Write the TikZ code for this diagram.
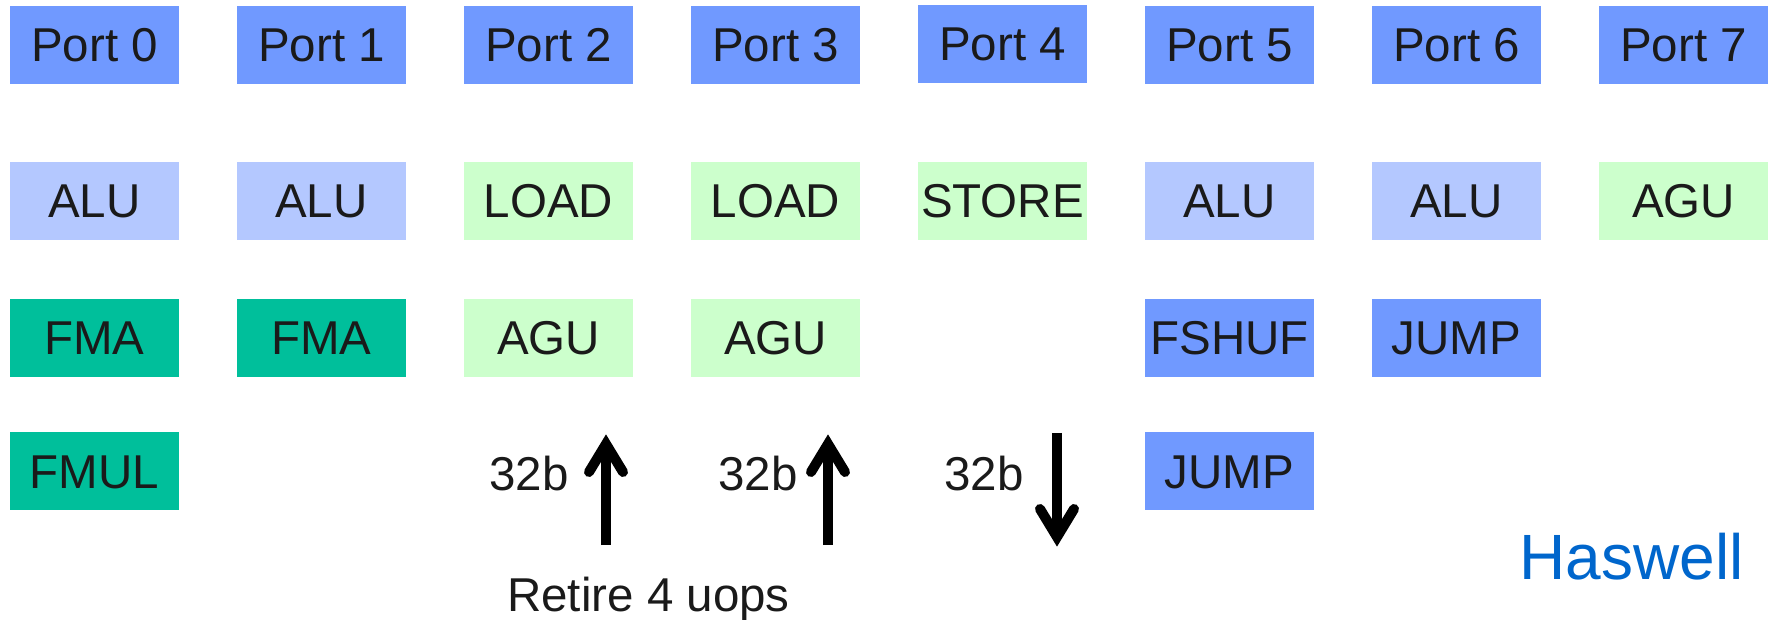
\documentclass[tikz,border=0pt]{standalone}
\usepackage{fontspec}
\setmainfont{Liberation Sans}
\usetikzlibrary{calc}
\definecolor{portblue}{RGB}{112,153,255}
\definecolor{alublue}{RGB}{180,200,255}
\definecolor{memgreen}{RGB}{204,255,204}
\definecolor{fpteal}{RGB}{0,191,155}
\definecolor{inkblack}{RGB}{26,26,26}
\definecolor{titleblue}{RGB}{0,102,204}

\begin{document}
\begin{tikzpicture}[x=0.5pt,y=-0.5pt,
  unit/.style={inner sep=0pt, minimum width=84.5pt, minimum height=39pt,
    text height=17pt, text depth=0pt,
    font=\fontsize{23.75}{28}\selectfont, text=inkblack},
  port/.style={unit, fill=portblue},
  alu/.style={unit, fill=alublue},
  mem/.style={unit, fill=memgreen},
  fp/.style={unit, fill=fpteal},
  lbl/.style={anchor=base, inner sep=0pt,
    font=\fontsize{23.75}{28}\selectfont, text=inkblack},
  shaft/.style={line width=5pt, black},
  barb/.style={line width=5pt, black, line cap=round, line join=miter}
]
\useasboundingbox (0,0) rectangle (1769,620);

% issue ports
\node[port] (p0) at (94.5,45)  {Port 0};
\node[port] (p1) at (321.5,45) {Port 1};
\node[port] (p2) at (548.5,45) {Port 2};
\node[port] (p3) at (775.5,45) {Port 3};
\node[port] (p4) at (1002.5,44) {Port 4};
\node[port] (p5) at (1229.5,45) {Port 5};
\node[port] (p6) at (1456.5,45) {Port 6};
\node[port] (p7) at (1683.5,45) {Port 7};

% first execution unit behind each port
\node[alu] (u0a) at (94.5,201)  {ALU};
\node[alu] (u1a) at (321.5,201) {ALU};
\node[mem] (u2a) at (548.5,201) {LOAD};
\node[mem] (u3a) at (775.5,201) {LOAD};
\node[mem] (u4a) at (1002.5,201) {STORE};
\node[alu] (u5a) at (1229.5,201) {ALU};
\node[alu] (u6a) at (1456.5,201) {ALU};
\node[mem] (u7a) at (1683.5,201) {AGU};

% second execution unit
\node[fp]   (u0b) at (94.5,338)  {FMA};
\node[fp]   (u1b) at (321.5,338) {FMA};
\node[mem]  (u2b) at (548.5,338) {AGU};
\node[mem]  (u3b) at (775.5,338) {AGU};
\node[port] (u5b) at (1229.5,338) {FSHUF};
\node[port] (u6b) at (1456.5,338) {JUMP};

% third execution unit
\node[fp]   (u0c) at (94.5,471)  {FMUL};
\node[port] (u5c) at (1229.5,471) {JUMP};

% load / store data paths
\coordinate (a1b) at (606,545);  \coordinate (a1t) at (606,444);
\coordinate (a2b) at (828,545);  \coordinate (a2t) at (828,444);
\coordinate (a3b) at (1057,433); \coordinate (a3t) at (1057,537);

\draw[shaft] (a1b) -- (a1t);
\draw[barb] ($(a1t)+(-17,28)$) -- (a1t) -- ($(a1t)+(17,28)$);
\draw[shaft] (a2b) -- (a2t);
\draw[barb] ($(a2t)+(-17,28)$) -- (a2t) -- ($(a2t)+(17,28)$);
\draw[shaft] (a3b) -- (a3t);
\draw[barb] ($(a3t)+(-17,-28)$) -- (a3t) -- ($(a3t)+(17,-28)$);

\node[lbl] (w1) at (529,490) {32b};
\node[lbl] (w2) at (758,490) {32b};
\node[lbl] (w3) at (984,490) {32b};

\node[lbl] (ret) at (648.5,611) {Retire 4 uops};

\node[anchor=base, inner sep=0pt, font=\fontsize{32}{38}\selectfont,
  text=titleblue] (arch) at (1631.5,579) {Haswell};
\end{tikzpicture}
\end{document}
